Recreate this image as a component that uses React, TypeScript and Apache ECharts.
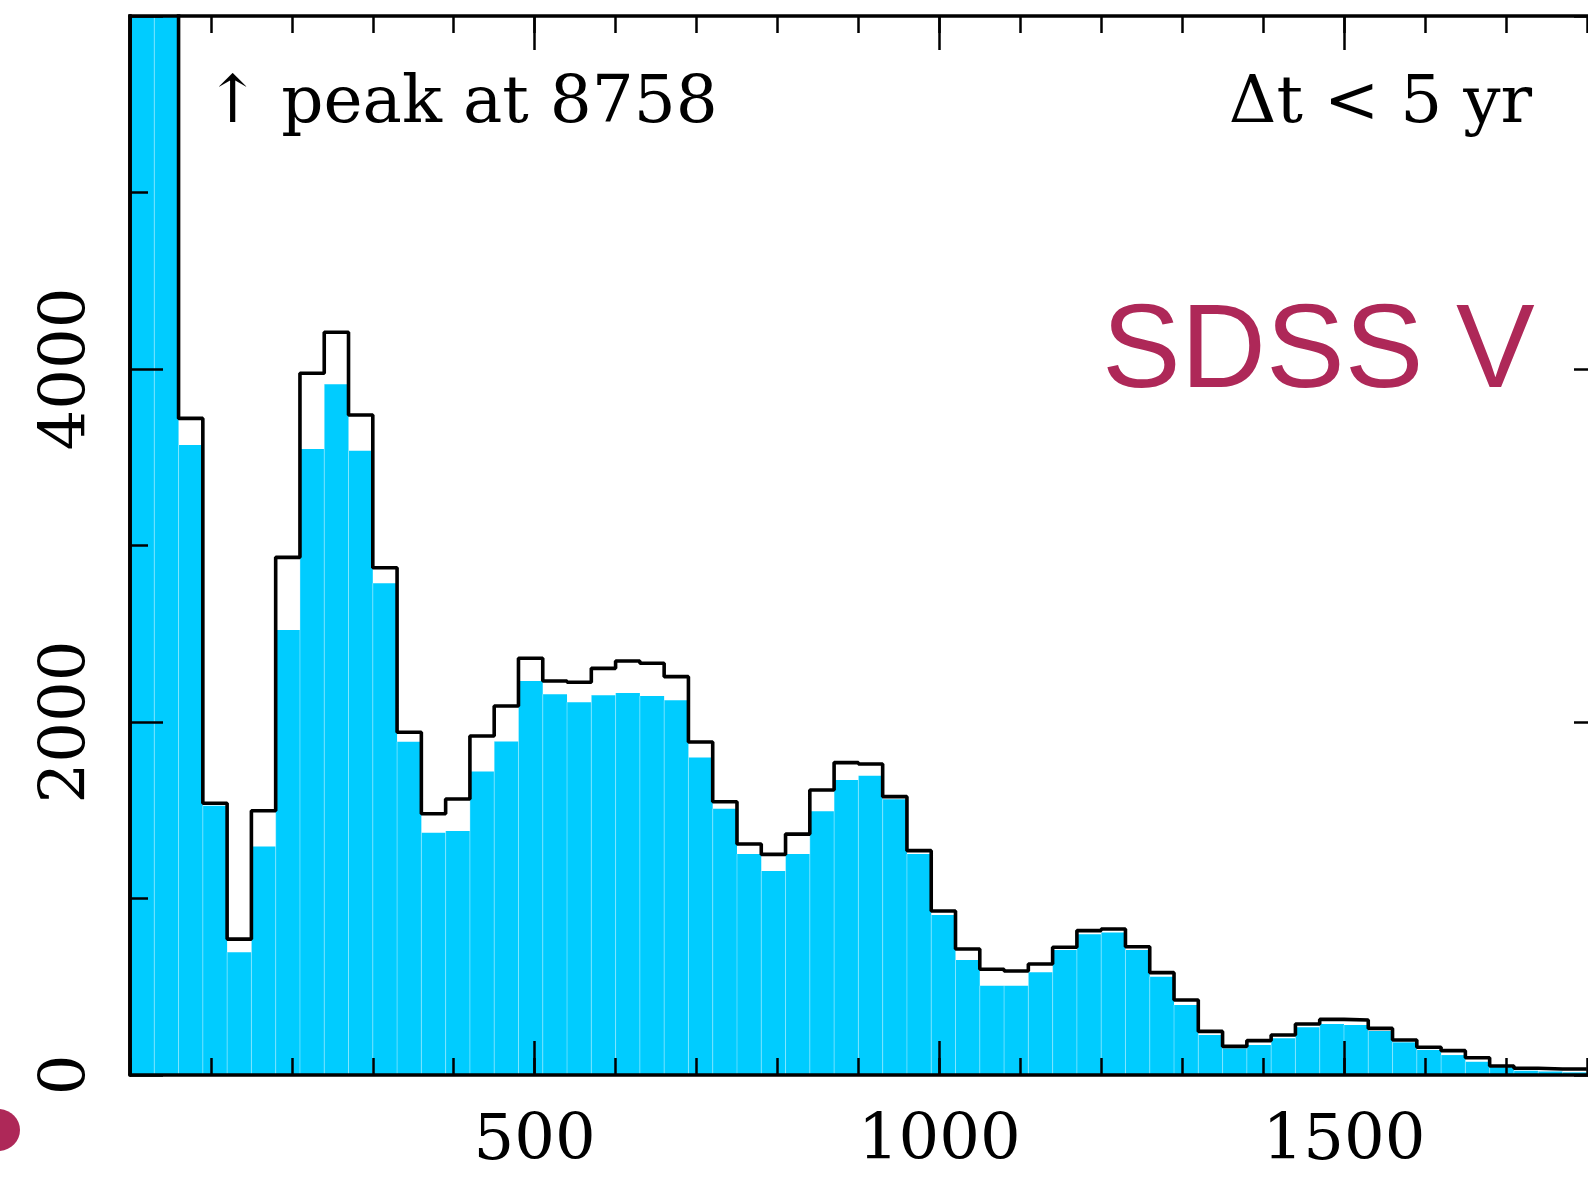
import React, { useEffect, useRef } from "react";
import * as echarts from "echarts";

// Histogram bins (left edges, width 30)
const binLeftEdges = [
  0, 30, 60, 90, 120, 150, 180, 210, 240, 270,
  300, 330, 360, 390, 420, 450, 480, 510, 540, 570,
  600, 630, 660, 690, 720, 750, 780, 810, 840, 870,
  900, 930, 960, 990, 1020, 1050, 1080, 1110, 1140, 1170,
  1200, 1230, 1260, 1290, 1320, 1350, 1380, 1410, 1440, 1470,
  1500, 1530, 1560, 1590, 1620, 1650, 1680, 1710, 1740, 1770,
];
const binWidth = 30;

// all pairs (black outline)
const totalCounts = [
  8758, 6700, 3720, 1540, 770, 1497, 2933, 3976, 4208, 3739,
  2874, 1942, 1480, 1564, 1921, 2091, 2361, 2232, 2225, 2304,
  2346, 2333, 2257, 1887, 1548, 1309, 1250, 1365, 1615, 1770,
  1762, 1577, 1271, 929, 714, 599, 589, 629, 724, 818,
  827, 727, 580, 425, 247, 162, 195, 227, 289, 315,
  312, 264, 198, 157, 138, 98, 51, 38, 34, 34,
];

// subset (cyan fill)
const subsetCounts = [
  8450, 6400, 3570, 1525, 695, 1294, 2521, 3547, 3913, 3537,
  2786, 1888, 1373, 1382, 1719, 1889, 2232, 2157, 2112, 2151,
  2164, 2147, 2123, 1799, 1509, 1252, 1156, 1252, 1494, 1671,
  1696, 1562, 1252, 906, 652, 506, 506, 582, 708, 797,
  808, 708, 557, 397, 227, 151, 170, 208, 270, 289,
  283, 249, 185, 142, 113, 75, 44, 24, 20, 15,
];

const xMin = 0;
const xMax = 1825;
const yMin = 0;
const yMax = 6000;
const xTickLabels = ["500", "1000", "1500"];
const yTickLabels = ["0", "2000", "4000"];
const peakText = "↑ peak at 8758";
const windowText = "Δt < 5 yr";
const surveyText = "SDSS V";

const SERIF = "DejaVu Serif";
const INK = "#000";
const CYAN = "#00CCFF";
const MAROON = "#AE2858";

export default function App() {
  const ref = useRef<HTMLDivElement>(null);

  useEffect(() => {
    if (!ref.current) return;
    const chart = echarts.init(ref.current, undefined, { renderer: "svg" });

    const barData = binLeftEdges.map((x0, i) => [x0, x0 + binWidth, subsetCounts[i]]);
    const stepData: number[][] = [[binLeftEdges[0], 0]];
    binLeftEdges.forEach((x0, i) => stepData.push([x0, totalCounts[i]]));
    stepData.push([
      binLeftEdges[binLeftEdges.length - 1] + binWidth,
      totalCounts[totalCounts.length - 1],
    ]);

    const tickStyle = { color: INK, width: 2.5 };
    const lineStyle = { color: INK, width: 3.6 };

    const xAxisBase = (position: string, interval: number, len: number, showLine: boolean, showLabel: boolean) => ({
      type: "value",
      position,
      min: xMin,
      max: xMax,
      interval,
      z: 5,
      axisLine: { show: showLine, onZero: false, lineStyle },
      axisTick: { show: true, inside: true, length: len, lineStyle: tickStyle },
      axisLabel: {
        show: showLabel,
        showMinLabel: false,
        showMaxLabel: false,
        color: INK,
        fontFamily: SERIF,
        fontSize: 64,
        margin: 30,
        formatter: (v: number) => (xTickLabels.includes(String(v)) ? String(v) : ""),
      },
      splitLine: { show: false },
    });

    const yAxisBase = (position: string, showLabel: boolean) => ({
      type: "value",
      position,
      min: yMin,
      max: yMax,
      interval: 2000,
      z: 5,
      axisLine: { show: true, onZero: false, lineStyle },
      axisTick: { show: true, inside: true, length: 33, lineStyle: tickStyle },
      minorTick: { show: true, splitNumber: 2, length: 18, lineStyle: tickStyle },
      axisLabel: {
        show: showLabel,
        rotate: 90,
        color: INK,
        fontFamily: SERIF,
        fontSize: 64,
        margin: 35,
        formatter: (v: number) => (yTickLabels.includes(String(v)) ? String(v) : ""),
      },
      splitLine: { show: false },
    });

    chart.setOption({
      animation: false,
      backgroundColor: "#fff",
      grid: {
        left: 130,
        top: 16,
        width: 1477,
        height: 1059,
        containLabel: false,
        outerBoundsMode: "none",
      },
      xAxis: [
        xAxisBase("bottom", 100, 17, true, false),
        xAxisBase("bottom", 500, 34, false, true),
        xAxisBase("top", 100, 17, true, false),
        xAxisBase("top", 500, 34, false, false),
      ],
      yAxis: [yAxisBase("left", true), yAxisBase("right", false)],
      series: [
        {
          type: "custom",
          xAxisIndex: 0,
          yAxisIndex: 0,
          z: 2,
          encode: { x: [0, 1], y: 2 },
          data: barData,
          renderItem: (params: any, api: any) => {
            const x0 = api.value(0);
            const x1 = api.value(1);
            const v = api.value(2);
            const p0 = api.coord([x0, 0]);
            const p1 = api.coord([x1, v]);
            const cs = params.coordSys;
            const rect = echarts.graphic.clipRectByRect(
              { x: p0[0], y: p1[1], width: p1[0] - p0[0], height: p0[1] - p1[1] },
              { x: cs.x, y: cs.y, width: cs.width, height: cs.height }
            );
            if (!rect) return null;
            const children: any[] = [
              { type: "rect", shape: rect, style: { fill: CYAN } },
            ];
            if (params.dataIndex > 0) {
              children.push({
                type: "line",
                shape: { x1: rect.x, y1: rect.y, x2: rect.x, y2: rect.y + rect.height },
                style: { stroke: "rgba(255,255,255,0.35)", lineWidth: 1 },
              });
            }
            return { type: "group", children };
          },
        },
        {
          type: "line",
          xAxisIndex: 0,
          yAxisIndex: 0,
          z: 3,
          step: "end",
          clip: true,
          symbol: "none",
          data: stepData,
          lineStyle: { color: INK, width: 3.6 },
        },
      ],
      graphic: [
        {
          type: "text",
          z: 10,
          style: {
            text: peakText,
            x: 205,
            y: 99,
            fill: INK,
            font: `66px "${SERIF}"`,
            align: "left",
            verticalAlign: "middle",
          },
        },
        {
          type: "text",
          z: 10,
          style: {
            text: windowText,
            x: 1532,
            y: 99,
            fill: INK,
            font: `66px "${SERIF}"`,
            align: "right",
            verticalAlign: "middle",
          },
        },
        {
          type: "text",
          z: 10,
          style: {
            text: surveyText,
            x: 1102,
            y: 346,
            fill: MAROON,
            font: `118px "Liberation Sans"`,
            align: "left",
            verticalAlign: "middle",
          },
        },
        {
          type: "ellipse",
          z: 10,
          shape: { cx: -2, cy: 1130, rx: 22, ry: 21 },
          style: { fill: MAROON },
        },
      ],
    });

    return () => chart.dispose();
  }, []);

  return (
    <div
      ref={ref}
      style={{ position: "fixed", left: 0, top: 0, width: 1588, height: 1179, background: "#fff" }}
    />
  );
}
